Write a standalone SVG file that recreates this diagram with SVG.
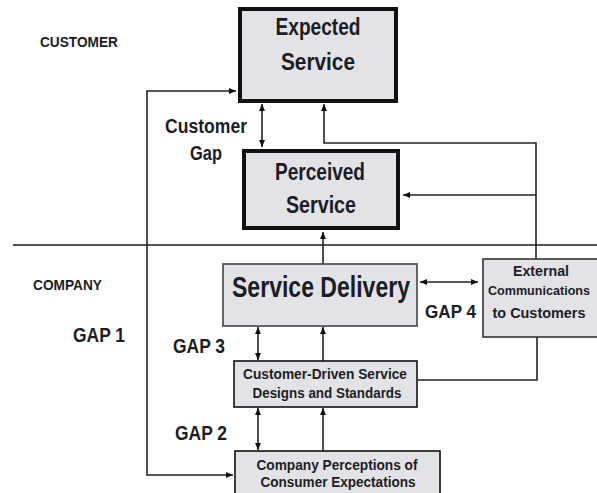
<svg xmlns="http://www.w3.org/2000/svg" width="597" height="493" viewBox="0 0 597 493">
<style>
text{font-family:"Liberation Sans",Arial,sans-serif;font-weight:bold;fill:#1c1c26;text-anchor:middle}
.lbl{text-anchor:start}
.box{fill:#e3e3e7;stroke:#111;stroke-width:1.6}
.thick{fill:#e3e3e7;stroke:#111;stroke-width:4}
.ln{fill:none;stroke:#222;stroke-width:1.6}
.sep{fill:none;stroke:#555;stroke-width:2.2}
</style>
<defs>
<marker id="ah" markerUnits="userSpaceOnUse" markerWidth="8" markerHeight="6" refX="7" refY="3" orient="auto">
<path d="M0,0 L7,3 L0,6 Z" fill="#111"/>
</marker>
<marker id="as" markerUnits="userSpaceOnUse" markerWidth="8" markerHeight="6" refX="0" refY="3" orient="auto">
<path d="M7,0 L0,3 L7,6 Z" fill="#111"/>
</marker>
</defs>
<g id="labels">
<text class="lbl" x="40" y="47" font-size="14" textLength="78" lengthAdjust="spacingAndGlyphs">CUSTOMER</text>
<text class="lbl" x="33" y="290" font-size="14" textLength="69" lengthAdjust="spacingAndGlyphs">COMPANY</text>
<text x="206" y="133" font-size="20" textLength="82" lengthAdjust="spacingAndGlyphs">Customer</text>
<text x="206" y="160" font-size="20" textLength="32" lengthAdjust="spacingAndGlyphs">Gap</text>
<text class="lbl" x="73" y="342" font-size="21" textLength="52" lengthAdjust="spacingAndGlyphs">GAP 1</text>
<text class="lbl" x="173" y="353" font-size="21" textLength="52" lengthAdjust="spacingAndGlyphs">GAP 3</text>
<text class="lbl" x="175" y="440" font-size="21" textLength="52" lengthAdjust="spacingAndGlyphs">GAP 2</text>
<text class="lbl" x="425" y="318" font-size="19" textLength="51" lengthAdjust="spacingAndGlyphs">GAP 4</text>
</g>
<g id="separator">
<line class="sep" x1="13" y1="245" x2="597" y2="245"/>
</g>
<g id="connectors">
<polyline class="ln" points="147,245 147,91 236,91" marker-end="url(#ah)"/>
<polyline class="ln" points="147,245 147,475 233,475" marker-end="url(#ah)"/>
<line class="ln" x1="262" y1="104" x2="262" y2="147" marker-start="url(#as)" marker-end="url(#ah)"/>
<polyline class="ln" points="536,259 536,143 324,143 324,104" marker-end="url(#ah)"/>
<line class="ln" x1="536" y1="195" x2="403" y2="195" marker-end="url(#ah)"/>
<line class="ln" x1="323" y1="264" x2="323" y2="232" marker-end="url(#ah)"/>
<line class="ln" x1="420" y1="282" x2="478" y2="282" marker-start="url(#as)" marker-end="url(#ah)"/>
<line class="ln" x1="258" y1="327" x2="258" y2="360" marker-start="url(#as)" marker-end="url(#ah)"/>
<line class="ln" x1="323" y1="361" x2="323" y2="327" marker-end="url(#ah)"/>
<polyline class="ln" points="537,337 537,380 418,380"/>
<line class="ln" x1="258" y1="408" x2="258" y2="450" marker-start="url(#as)" marker-end="url(#ah)"/>
<line class="ln" x1="323" y1="451" x2="323" y2="408" marker-end="url(#ah)"/>
</g>
<g id="expected">
<rect class="thick" x="240" y="9" width="156" height="92"/>
<text x="318" y="35" font-size="24" textLength="85" lengthAdjust="spacingAndGlyphs">Expected</text>
<text x="318" y="70" font-size="24" textLength="74" lengthAdjust="spacingAndGlyphs">Service</text>
</g>
<g id="perceived">
<rect class="thick" x="244" y="151" width="154" height="77"/>
<text x="320" y="180" font-size="24" textLength="90" lengthAdjust="spacingAndGlyphs">Perceived</text>
<text x="321" y="213" font-size="24" textLength="70" lengthAdjust="spacingAndGlyphs">Service</text>
</g>
<g id="delivery">
<rect class="box" x="223" y="264" width="194" height="62" style="stroke:#444"/>
<text x="321" y="297" font-size="30" textLength="178" lengthAdjust="spacingAndGlyphs">Service Delivery</text>
</g>
<g id="external">
<rect class="box" x="483" y="259" width="116" height="78" style="stroke:#333"/>
<text x="541" y="276" font-size="15" textLength="56" lengthAdjust="spacingAndGlyphs">External</text>
<text x="539" y="295" font-size="13" textLength="102" lengthAdjust="spacingAndGlyphs">Communications</text>
<text x="539" y="318" font-size="15" textLength="93" lengthAdjust="spacingAndGlyphs">to Customers</text>
</g>
<g id="designs">
<rect class="box" x="234" y="361" width="183" height="46"/>
<text x="325" y="379" font-size="14" textLength="164" lengthAdjust="spacingAndGlyphs">Customer-Driven Service</text>
<text x="327" y="398" font-size="14" textLength="149" lengthAdjust="spacingAndGlyphs">Designs and Standards</text>
</g>
<g id="perceptions">
<rect class="box" x="235" y="451" width="205" height="45"/>
<text x="337" y="470" font-size="14" textLength="161" lengthAdjust="spacingAndGlyphs">Company Perceptions of</text>
<text x="338" y="487" font-size="14" textLength="155" lengthAdjust="spacingAndGlyphs">Consumer Expectations</text>
</g>
</svg>
